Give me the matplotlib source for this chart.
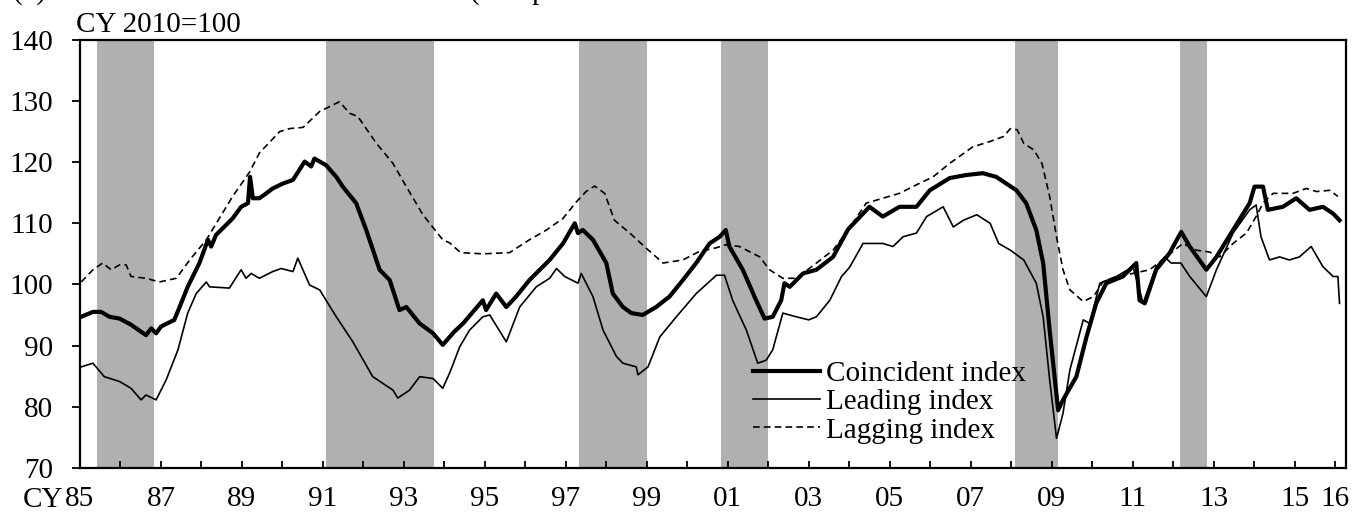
import matplotlib
matplotlib.use('Agg')
import matplotlib.pyplot as plt

plt.rcParams['font.family'] = ['Liberation Serif', 'DejaVu Serif']
plt.rcParams['font.size'] = 21

# recession periods (peak month, trough month)
RECESSIONS = [('1985-06', '1986-11'), ('1991-02', '1993-10'), ('1997-05', '1999-01'),
              ('2000-11', '2002-01'), ('2008-02', '2009-03'), ('2012-03', '2012-11')]

# values, time in decimal years
coin_t = [1985.03, 1985.32, 1985.52, 1985.73, 1985.98, 1986.26, 1986.63, 1986.76, 1986.88, 1987.00,
          1987.33, 1987.46, 1987.66, 1987.95, 1988.16, 1988.24, 1988.36, 1988.77, 1988.98, 1989.15,
          1989.20, 1989.27, 1989.43, 1989.60, 1989.76, 1990.01, 1990.26, 1990.55, 1990.71, 1990.79,
          1991.08, 1991.33, 1991.49, 1991.82, 1992.07, 1992.40, 1992.65, 1992.89, 1993.06, 1993.39,
          1993.72, 1993.96, 1994.13, 1994.25, 1994.46, 1994.95, 1995.03, 1995.28, 1995.53, 1995.77,
          1996.10, 1996.60, 1996.93, 1997.22, 1997.30, 1997.42, 1997.67, 1998.00, 1998.16, 1998.41,
          1998.62, 1998.90, 1999.23, 1999.56, 1999.89, 2000.22, 2000.55, 2000.80, 2000.95, 2001.04,
          2001.37, 2001.70, 2001.91, 2002.11, 2002.32, 2002.40, 2002.53, 2002.86, 2003.19, 2003.60,
          2003.97, 2004.50, 2004.83, 2005.24, 2005.66, 2005.99, 2006.48, 2006.89, 2007.30, 2007.63,
          2007.88, 2008.13, 2008.37, 2008.62, 2008.79, 2008.95, 2009.16, 2009.28, 2009.61, 2009.86,
          2010.10, 2010.35, 2010.76, 2011.09, 2011.17, 2011.30, 2011.58, 2011.91, 2012.20, 2012.41,
          2012.82, 2013.07, 2013.48, 2013.89, 2014.01, 2014.22, 2014.34, 2014.71, 2015.04, 2015.37,
          2015.70, 2015.95, 2016.11]
coin_v = [94.7, 95.5, 95.5, 94.7, 94.4, 93.4, 91.7, 92.8, 92.0, 93.1,
          94.2, 96.3, 99.6, 103.5, 107.3, 106.2, 108.1, 110.8, 112.7, 113.3,
          117.6, 114.1, 114.1, 114.9, 115.7, 116.5, 117.1, 120.1, 119.3, 120.6,
          119.5, 117.6, 116.0, 113.3, 108.9, 102.4, 100.7, 95.8, 96.3, 93.6,
          92.0, 90.1, 91.4, 92.3, 93.6, 97.4, 95.8, 98.5, 96.3, 98.0,
          100.7, 104.0, 106.7, 110.0, 108.4, 108.9, 107.3, 103.5, 98.5, 96.3,
          95.3, 95.0, 96.3, 98.0, 100.7, 103.5, 106.7, 107.8, 108.9, 106.2,
          102.4, 97.4, 94.4, 94.7, 97.4, 100.2, 99.6, 101.8, 102.4, 104.5,
          109.0, 112.7, 111.1, 112.7, 112.7, 115.4, 117.4, 117.9, 118.2, 117.6,
          116.5, 115.4, 113.3, 108.9, 103.5, 92.5, 79.4, 81.1, 84.9, 91.4,
          96.9, 100.2, 101.3, 103.5, 97.4, 96.9, 102.4, 105.1, 108.6, 106.2,
          102.4, 104.5, 108.9, 113.3, 116.0, 116.0, 112.2, 112.7, 114.1, 112.2,
          112.7, 111.6, 110.5]

lead_t = [1985.03, 1985.32, 1985.60, 1985.98, 1986.26, 1986.51, 1986.63, 1986.88, 1987.13, 1987.42,
          1987.66, 1987.87, 1988.12, 1988.20, 1988.69, 1988.98, 1989.10, 1989.23, 1989.43, 1989.76,
          1989.97, 1990.26, 1990.38, 1990.67, 1990.92, 1991.33, 1991.74, 1992.23, 1992.73, 1992.85,
          1993.14, 1993.39, 1993.72, 1993.96, 1994.13, 1994.38, 1994.62, 1994.95, 1995.12, 1995.53,
          1995.86, 1996.27, 1996.60, 1996.77, 1996.97, 1997.30, 1997.38, 1997.67, 1997.92, 1998.25,
          1998.41, 1998.74, 1998.78, 1999.03, 1999.32, 1999.73, 2000.22, 2000.72, 2000.92, 2001.12,
          2001.46, 2001.74, 2001.95, 2002.11, 2002.36, 2002.69, 2003.00, 2003.19, 2003.52, 2003.81,
          2004.01, 2004.34, 2004.83, 2005.08, 2005.33, 2005.66, 2005.91, 2006.32, 2006.57, 2006.82,
          2007.15, 2007.48, 2007.69, 2007.98, 2008.31, 2008.62, 2008.79, 2008.95, 2009.12, 2009.28,
          2009.45, 2009.78, 2009.94, 2010.19, 2010.60, 2011.01, 2011.26, 2011.58, 2011.79, 2011.95,
          2012.19, 2012.41, 2012.82, 2013.07, 2013.48, 2013.89, 2014.05, 2014.17, 2014.38, 2014.63,
          2014.87, 2015.12, 2015.41, 2015.70, 2015.95, 2016.07, 2016.11]
lead_v = [86.5, 87.1, 84.9, 84.1, 83.0, 81.1, 81.9, 81.1, 84.4, 89.3,
          95.3, 98.5, 100.4, 99.6, 99.4, 102.4, 101.0, 101.8, 101.0, 102.1,
          102.6, 102.1, 104.3, 99.9, 99.1, 94.7, 90.6, 84.9, 82.7, 81.4,
          82.7, 84.9, 84.6, 83.0, 85.5, 89.8, 92.5, 94.7, 95.0, 90.6,
          96.3, 99.6, 101.0, 102.6, 101.3, 100.2, 101.8, 98.0, 92.5, 88.2,
          87.1, 86.5, 85.2, 86.5, 91.4, 94.7, 98.5, 101.5, 101.5, 97.4,
          92.5, 87.1, 87.6, 89.3, 95.3, 94.7, 94.2, 94.7, 97.4, 101.3,
          102.8, 106.7, 106.7, 106.2, 107.8, 108.4, 111.1, 112.7, 109.4, 110.5,
          111.4, 110.0, 106.7, 105.6, 104.0, 100.2, 94.7, 84.4, 74.8, 78.9,
          86.0, 94.2, 93.6, 100.2, 101.3, 102.9, 96.9, 102.9, 104.5, 103.5,
          103.5, 101.3, 98.0, 102.4, 108.4, 112.2, 113.0, 107.8, 104.0, 104.5,
          104.0, 104.5, 106.2, 102.9, 101.3, 101.3, 96.9]

lag_t = [1985.03, 1985.32, 1985.56, 1985.77, 1985.98, 1986.14, 1986.26, 1986.63, 1986.96, 1987.38,
         1987.71, 1988.12, 1988.77, 1989.19, 1989.43, 1989.93, 1990.18, 1990.51, 1990.92, 1991.41,
         1991.66, 1991.86, 1992.32, 1992.73, 1993.06, 1993.47, 1993.96, 1994.13, 1994.40, 1994.95,
         1995.61, 1996.10, 1996.52, 1996.93, 1997.26, 1997.50, 1997.71, 1997.96, 1998.20, 1998.58,
         1998.99, 1999.40, 1999.89, 2000.30, 2000.72, 2000.96, 2001.29, 2001.79, 2002.03, 2002.36,
         2002.69, 2003.19, 2003.60, 2003.97, 2004.42, 2004.83, 2005.24, 2005.66, 2006.07, 2006.48,
         2007.05, 2007.48, 2007.81, 2007.98, 2008.15, 2008.31, 2008.56, 2008.76, 2008.95, 2009.12,
         2009.28, 2009.45, 2009.78, 2010.03, 2010.27, 2010.60, 2011.01, 2011.42, 2011.83, 2012.24,
         2012.57, 2012.90, 2013.15, 2013.48, 2013.81, 2014.05, 2014.22, 2014.47, 2014.96, 2015.29,
         2015.54, 2015.87, 2016.07]
lag_v = [100.4, 102.4, 103.5, 102.4, 103.2, 103.2, 101.3, 101.0, 100.4, 101.0,
         104.0, 107.3, 114.4, 118.4, 121.5, 125.0, 125.5, 125.7, 128.3, 129.9,
         128.0, 127.5, 123.1, 119.8, 116.0, 111.4, 107.3, 106.8, 105.2, 105.0,
         105.2, 107.3, 108.9, 110.8, 113.5, 115.2, 116.1, 114.9, 110.5, 108.4,
         105.9, 103.5, 104.0, 105.4, 106.0, 106.5, 106.2, 104.5, 102.4, 101.0,
         101.0, 103.5, 105.6, 108.9, 113.3, 114.1, 114.9, 116.3, 117.6, 119.8,
         122.5, 123.4, 124.2, 125.5, 125.3, 123.1, 122.0, 119.8, 114.4, 107.8,
         102.4, 99.1, 97.2, 98.0, 100.4, 101.3, 101.8, 102.4, 104.5, 106.7,
         105.6, 105.3, 104.5, 106.7, 108.4, 111.1, 113.3, 114.9, 114.9, 115.7,
         115.2, 115.4, 114.4]

YEARS = list(range(1985, 2017))
LABELED = [y for y in YEARS if y % 2 == 1 or y == 2016]


def to_year(month_str):
    y, m = month_str.split('-')
    return int(y) + (int(m) - 1) / 12


fig = plt.figure(figsize=(13.54, 5.13), dpi=100)
ax = fig.add_axes([80 / 1354, 1 - 467.7 / 513, 1266 / 1354, 427.7 / 513])

for start, end in RECESSIONS:
    ax.axvspan(to_year(start), to_year(end), color='#b0b0b0', lw=0, zorder=0)

ax.plot(coin_t, coin_v, color='black', lw=3.0, solid_joinstyle='round', label='Coincident index')
ax.plot(lead_t, lead_v, color='black', lw=1.2, label='Leading index')
ax.plot(lag_t, lag_v, color='black', lw=1.2, linestyle=(0, (4, 2.5)), label='Lagging index')

ax.set_xlim(1985, 2016.27)
ax.set_ylim(70, 140)
ax.set_yticks(range(70, 141, 10))
ax.set_xticks(YEARS)
ax.set_xticklabels([f'{y % 100:02d}' if y in LABELED else '' for y in YEARS])
ax.tick_params(axis='x', direction='in', length=5, width=1.3, pad=13)
ax.tick_params(axis='y', direction='out', length=5.8, width=1.3, pad=13.5)
for sp in ax.spines.values():
    sp.set_linewidth(1.6)

ax.legend(loc='upper left', bbox_to_anchor=(0.5316, 0.25), frameon=False, borderpad=0,
          borderaxespad=0, handlelength=2.3, handletextpad=0.2, labelspacing=0.06)

ax.text(-0.003, 1.019, 'CY 2010=100', transform=ax.transAxes, ha='left', va='baseline')
fig.text(63 / 1354, 1 - 500 / 513, 'CY', ha='right', va='center')

# title line above the plot, cut off by the top edge as in the source
fig.text(13 / 1354, 1 + 1 / 513, '(2)', ha='left', va='baseline')
fig.text(470 / 1354, 1 + 1 / 513, '(except', ha='left', va='baseline')

fig.savefig('out.png', dpi=100)
